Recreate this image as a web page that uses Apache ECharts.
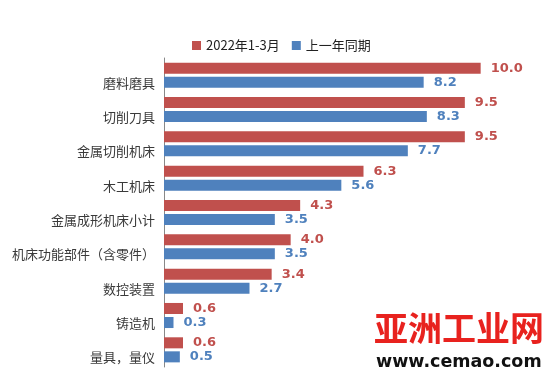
<!DOCTYPE html>
<html><head><meta charset="utf-8">
<script src="https://cdn.jsdelivr.net/npm/echarts@6/dist/echarts.min.js"></script>
<style>html,body{margin:0;padding:0;background:#fff}#c{width:554px;height:379px}</style>
</head><body><div id="c"></div>
<script>
const categories = ['磨料磨具','切削刀具','金属切削机床','木工机床','金属成形机床小计','机床功能部件（含零件）','数控装置','铸造机','量具，量仪'];
const seriesNames = ['2022年1-3月','上一年同期'];
const current = [10.0, 9.5, 9.5, 6.3, 4.3, 4.0, 3.4, 0.6, 0.6];
const previous = [8.2, 8.3, 7.7, 5.6, 3.5, 3.5, 2.7, 0.3, 0.5];
const colors = ['#C0504D','#4F81BD'];
const font = '"Noto Sans CJK SC", "DejaVu Sans", sans-serif';
const chart = echarts.init(document.getElementById('c'));
chart.setOption({
  animation: false,
  backgroundColor: '#fff',
  legend: {
    data: seriesNames, top: 34, left: 187, itemWidth: 9, itemHeight: 9, itemGap: 12,
    icon: 'rect', textStyle: { fontFamily: font, fontSize: 13, color: '#222' }
  },
  grid: { left: 164, right: 10, top: 58, bottom: 12, containLabel: false },
  xAxis: { type: 'value', min: 0, max: 12, show: false },
  yAxis: {
    type: 'category', data: categories, inverse: true,
    axisLine: { show: true, lineStyle: { color: '#888', width: 1 } },
    axisTick: { show: false },
    axisLabel: { fontFamily: font, fontSize: 13, color: '#3a3a3a', margin: 9, verticalAlign: 'top', padding: [1, 0, 0, 0] }
  },
  series: [
    { name: seriesNames[0], type: 'bar', data: current, barGap: '27%', barCategoryGap: '27%',
      itemStyle: { color: colors[0] },
      label: { show: true, position: 'right', distance: 10, formatter: p => p.value.toFixed(1),
        color: colors[0], fontWeight: 'bold', fontSize: 13, fontFamily: '"DejaVu Sans", sans-serif' } },
    { name: seriesNames[1], type: 'bar', data: previous, barGap: '27%', barCategoryGap: '27%',
      itemStyle: { color: colors[1] },
      label: { show: true, position: 'right', distance: 10, formatter: p => p.value.toFixed(1),
        color: colors[1], fontWeight: 'bold', fontSize: 13, fontFamily: '"DejaVu Sans", sans-serif' } }
  ],
  graphic: [
    { type: 'text', left: 374, top: 311, z: 100,
      style: { text: '亚洲工业网', fill: '#E8221E', font: 'bold 34px "Noto Sans CJK SC"' } },
    { type: 'text', left: 376, top: 353, z: 100,
      style: { text: 'www.cemao.com', fill: '#111', font: 'bold 17.5px "DejaVu Sans"' } }
  ]
});
</script></body></html>
